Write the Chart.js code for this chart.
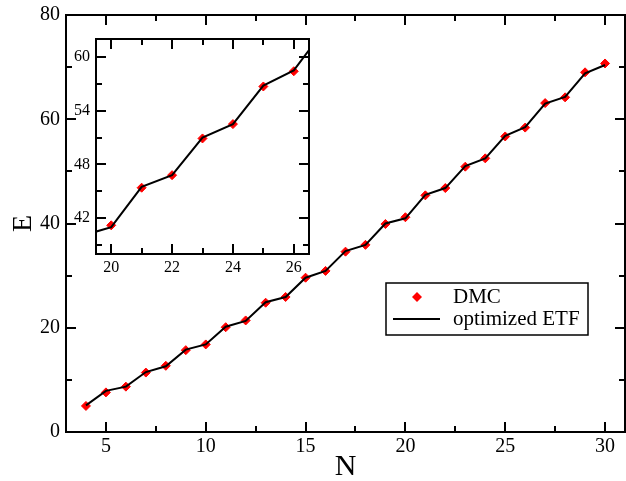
<!DOCTYPE html>
<html>
<head>
<meta charset="utf-8">
<script src="https://cdn.jsdelivr.net/npm/chart.js@4/dist/chart.umd.min.js"></script>
<style>
  html, body { margin: 0; padding: 0; background: #fff; }
  #wrap { position: relative; width: 626px; height: 481px; }
  #main { position: absolute; left: 0; top: 0; }
  #inset { position: absolute; left: 66px; top: 30px; }
</style>
</head>
<body>
<div id="wrap">
  <canvas id="main" width="626" height="481"></canvas>
  <canvas id="inset" width="250" height="250"></canvas>
</div>
<script>
// particle number N, energies
var N   = [4, 5, 6, 7, 8, 9, 10, 11, 12, 13, 14, 15, 16, 17, 18, 19, 20, 21, 22, 23, 24, 25, 26, 27, 28, 29, 30];
var dmc = [5.0, 7.6, 8.7, 11.4, 12.7, 15.7, 16.8, 20.1, 21.4, 24.8, 25.9, 29.6, 30.9, 34.6, 35.9, 39.9, 41.2, 45.4, 46.8, 50.9, 52.5, 56.7, 58.4, 63.1, 64.2, 69.0, 70.7];
var etf = [5.1, 7.9, 8.7, 11.5, 12.6, 15.8, 16.8, 20.2, 21.3, 24.9, 25.9, 29.6, 30.9, 34.7, 35.9, 40.0, 41.0, 45.5, 46.8, 51.0, 52.5, 56.8, 58.5, 63.0, 64.3, 68.8, 70.4];

var xTicks = [5, 10, 15, 20, 25, 30];
var yTicks = [0, 20, 40, 60, 80];
var insetXTicks = [20, 22, 24, 26];
var insetYTicks = [42, 48, 54, 60];

var serif = "'Liberation Serif', 'Times New Roman', serif";

function pts(ys) {
    var out = [];
    for (var i in N) out.push({x: N[i], y: ys[i]});
    return out;
}

function fixTicks(list) {
    return function(scale) {
        scale.ticks = list.map(function(v) { return {value: v}; });
    };
}

function fitW(w) {
    return function(s) { s.width = w; s.paddingTop = 0; s.paddingBottom = 0; };
}
function fitH(h) {
    return function(s) { s.height = h; s.paddingLeft = 0; s.paddingRight = 0; };
}

// frame round the plot area with ticks pointing inwards on all four sides
var boxTicks = {
    id: 'boxTicks',
    beforeDraw: function(chart, args, opts) {
        var a = chart.chartArea, ctx = chart.ctx;
        ctx.save();
        ctx.fillStyle = '#fff';
        ctx.fillRect(a.left, a.top, a.right - a.left, a.bottom - a.top);
        ctx.restore();
    },
    afterDraw: function(chart, args, opts) {
        var ctx = chart.ctx, a = chart.chartArea;
        var xs = chart.scales.x, ys = chart.scales.y;
        ctx.save();
        ctx.strokeStyle = '#000';
        ctx.lineWidth = opts.lineWidth;
        ctx.beginPath();
        function tx(v, len) {
            var p = Math.round(xs.getPixelForValue(v));
            ctx.moveTo(p, a.bottom); ctx.lineTo(p, a.bottom - len);
            ctx.moveTo(p, a.top); ctx.lineTo(p, a.top + len);
        }
        function ty(v, len) {
            var p = Math.round(ys.getPixelForValue(v));
            ctx.moveTo(a.left, p); ctx.lineTo(a.left + len, p);
            ctx.moveTo(a.right, p); ctx.lineTo(a.right - len, p);
        }
        var v;
        for (v = Math.ceil(xs.min / opts.xMinor) * opts.xMinor; v <= xs.max; v += opts.xMinor) tx(v, opts.minor);
        for (v = Math.ceil(ys.min / opts.yMinor) * opts.yMinor; v <= ys.max; v += opts.yMinor) ty(v, opts.minor);
        xs.ticks.forEach(function(t) { tx(t.value, opts.major); });
        ys.ticks.forEach(function(t) { ty(t.value, opts.major); });
        ctx.stroke();
        ctx.strokeRect(a.left, a.top, a.right - a.left, a.bottom - a.top);
        ctx.restore();
    }
};

// legend box inside the plot
var boxLegend = {
    id: 'boxLegend',
    afterDraw: function(chart, args, opts) {
        var ctx = chart.ctx;
        var ds = chart.data.datasets;
        ctx.save();
        ctx.fillStyle = '#fff';
        ctx.fillRect(opts.x, opts.y, opts.w, opts.h);
        ctx.strokeStyle = '#000';
        ctx.lineWidth = 1.5;
        ctx.strokeRect(opts.x, opts.y, opts.w, opts.h);
        ctx.font = '21px ' + serif;
        ctx.fillStyle = '#000';
        ctx.textBaseline = 'middle';
        var tx = opts.x + 67;
        // DMC
        var cx = opts.x + 31, cy = opts.y + 14;
        ctx.fillStyle = ds[1].pointBackgroundColor;
        ctx.beginPath();
        ctx.moveTo(cx, cy - 5); ctx.lineTo(cx + 5, cy); ctx.lineTo(cx, cy + 5); ctx.lineTo(cx - 5, cy);
        ctx.closePath(); ctx.fill();
        ctx.fillStyle = '#000';
        ctx.fillText(ds[1].label, tx, cy);
        // ETF
        cy = opts.y + 36;
        ctx.strokeStyle = ds[0].borderColor;
        ctx.lineWidth = 2;
        ctx.beginPath();
        ctx.moveTo(opts.x + 7, cy); ctx.lineTo(opts.x + 54, cy);
        ctx.stroke();
        ctx.fillText(ds[0].label, tx, cy);
        ctx.restore();
    }
};

function datasets(r) {
    return [
        {
            label: 'optimized ETF',
            data: pts(etf),
            showLine: true,
            borderColor: '#000',
            borderWidth: 2,
            pointRadius: 0,
            order: 0
        },
        {
            label: 'DMC',
            data: pts(dmc),
            showLine: false,
            pointStyle: 'rectRot',
            pointRadius: r,
            pointBackgroundColor: '#ff0000',
            pointBorderColor: '#ff0000',
            pointBorderWidth: 1,
            order: 1
        }
    ];
}

new Chart(document.getElementById('main'), {
    type: 'scatter',
    data: { datasets: datasets(4.5) },
    options: {
        responsive: false,
        animation: false,
        layout: { autoPadding: false, padding: { top: 15, right: 1, left: 0, bottom: 0 } },
        plugins: {
            legend: { display: false },
            tooltip: { enabled: false },
            boxTicks: { lineWidth: 2, major: 10, minor: 6, xMinor: 2.5, yMinor: 10 },
            boxLegend: { x: 386, y: 283, w: 202, h: 52 }
        },
        scales: {
            x: {
                type: 'linear', min: 3, max: 31,
                afterBuildTicks: fixTicks(xTicks),
                afterFit: fitH(49),
                grid: { display: false, drawTicks: false },
                border: { display: false },
                ticks: { color: '#000', padding: 3, font: { family: serif, size: 20 } },
                title: { display: true, text: 'N', color: '#000', padding: { top: 0, bottom: -1 },
                         font: { family: serif, size: 30, lineHeight: 1 } }
            },
            y: {
                type: 'linear', min: 0, max: 80,
                afterBuildTicks: fixTicks(yTicks),
                afterFit: fitW(66),
                grid: { display: false, drawTicks: false },
                border: { display: false },
                ticks: { color: '#000', padding: 6, font: { family: serif, size: 20 } },
                title: { display: true, text: 'E', color: '#000', padding: { top: 10, bottom: 0 },
                         font: { family: serif, size: 28, lineHeight: 1 } }
            }
        }
    },
    plugins: [boxTicks, boxLegend]
});

new Chart(document.getElementById('inset'), {
    type: 'scatter',
    data: { datasets: datasets(4.5) },
    options: {
        responsive: false,
        animation: false,
        layout: { autoPadding: false, padding: { top: 9, right: 7, left: 0, bottom: 0 } },
        plugins: {
            legend: { display: false },
            tooltip: { enabled: false },
            boxTicks: { lineWidth: 2, major: 10, minor: 6, xMinor: 1, yMinor: 3 }
        },
        scales: {
            x: {
                type: 'linear', min: 19.5, max: 26.5,
                afterBuildTicks: fixTicks(insetXTicks),
                afterFit: fitH(26),
                grid: { display: false, drawTicks: false },
                border: { display: false },
                ticks: { color: '#000', padding: 4, font: { family: serif, size: 16 } }
            },
            y: {
                type: 'linear', min: 38, max: 62,
                afterBuildTicks: fixTicks(insetYTicks),
                afterFit: fitW(30),
                grid: { display: false, drawTicks: false },
                border: { display: false },
                ticks: { color: '#000', padding: 6, font: { family: serif, size: 16 } }
            }
        }
    },
    plugins: [boxTicks]
});
</script>
</body>
</html>
